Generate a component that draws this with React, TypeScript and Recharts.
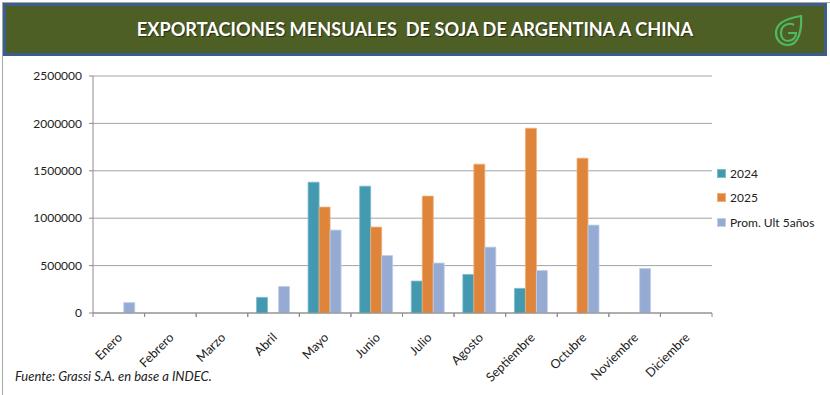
import React from 'react';
import { BarChart, Bar, XAxis, YAxis, CartesianGrid } from 'recharts';

// monthly soybean exports Argentina -> China (tn)
const months = [
  'Enero', 'Febrero', 'Marzo', 'Abril', 'Mayo', 'Junio',
  'Julio', 'Agosto', 'Septiembre', 'Octubre', 'Noviembre', 'Diciembre',
];
const exports2024 = [null, null, null, 165000, 1380000, 1338000, 337000, 407000, 260000, null, null, null];
const exports2025 = [null, null, null, null, 1117000, 906000, 1233000, 1570000, 1949000, 1633000, null, null];
const promUlt5 = [110000, null, null, 280000, 875000, 607000, 527000, 695000, 449000, 927000, 470000, null];
const yTicks = [0, 500000, 1000000, 1500000, 2000000, 2500000];

const series = [
  { key: 'y2024', name: '2024', color: '#4299b0', edge: '#7cbdcf' },
  { key: 'y2025', name: '2025', color: '#de843b', edge: '#f0ae7a' },
  { key: 'prom', name: 'Prom. Ult 5años', color: '#95abd3', edge: '#c3d0e8' },
];

const data = months.map((m, i) => ({
  month: m,
  y2024: exports2024[i],
  y2025: exports2025[i],
  prom: promUlt5[i],
}));

const FONT = 'Lato, "Open Sans", sans-serif';

const MonthTick = (props: any) => {
  const { x, y, payload } = props;
  const half = payload && payload.offset ? payload.offset : 25.8;
  return (
    <g>
      <line x1={x - half} y1={y} x2={x - half} y2={y + 4} stroke="#8c8c8c" />
      <line x1={x + half} y1={y} x2={x + half} y2={y + 4} stroke="#8c8c8c" />
      <text
        x={0}
        y={0}
        transform={`translate(${x + 2},${y + 23}) rotate(-45)`}
        textAnchor="end"
        dominantBaseline="middle"
        fontSize={12.5}
        fontFamily={FONT}
        fill="#222"
      >
        {payload.value}
      </text>
    </g>
  );
};

const Logo = () => (
  <svg width={30} height={34} viewBox="0 0 30 34" style={{ position: 'absolute', left: 774, top: 14 }}>
    <path
      d="M27 2 C 28 15, 25 31, 14 31 C 6 31, 2 25, 2 19 C 2 9, 14 4, 27 2 Z"
      fill="none"
      stroke="#4dba62"
      strokeWidth={2.2}
    />
    <path
      d="M20 11 C 15 8, 7 11, 7 19 C 7 24, 10 27, 14 27 C 19 27, 22 23, 22 19 L 14 19"
      fill="none"
      stroke="#4dba62"
      strokeWidth={2.2}
    />
  </svg>
);

export default function App() {
  return (
    <div
      style={{
        position: 'absolute',
        left: 0,
        top: 0,
        width: 830,
        height: 395,
        background: '#fff',
        fontFamily: FONT,
        overflow: 'hidden',
      }}
    >
      <div style={{ position: 'absolute', left: 2, top: 2, width: 830, height: 400, borderLeft: '1px solid #a6a6a6', borderTop: '1px solid #a6a6a6' }} />
      <div
        style={{
          position: 'absolute',
          left: 3,
          top: 3,
          width: 818,
          height: 47,
          background: '#4e5f26',
          border: '3px solid #3b5e8e',
          color: '#fff',
          fontWeight: 700,
          fontSize: 18.2,
          lineHeight: '47px',
          textAlign: 'center',
          textShadow: '1px 1px 1px rgba(0,0,0,0.55)',
        }}
      >
        EXPORTACIONES MENSUALES&nbsp; DE SOJA DE ARGENTINA A CHINA
      </div>
      <Logo />

      <div style={{ position: 'absolute', left: 0, top: 0 }}>
        <BarChart
          width={830}
          height={395}
          data={data}
          margin={{ top: 76, right: 118, bottom: 22, left: 33 }}
          barCategoryGap="17%"
          barGap={0}
        >
          <CartesianGrid vertical={false} stroke="#a3a3a3" />
          <XAxis
            dataKey="month"
            height={60}
            interval={0}
            tickLine={false}
            tickSize={0}
            tickMargin={0}
            axisLine={{ stroke: '#8c8c8c' }}
            tick={<MonthTick />}
          />
          <YAxis
            width={60}
            domain={[0, 2500000]}
            ticks={yTicks}
            interval={0}
            tickSize={4}
            tickMargin={7}
            tickLine={{ stroke: '#8c8c8c' }}
            axisLine={{ stroke: '#8c8c8c' }}
            tick={{ fontSize: 12, fontFamily: FONT, fill: '#222' }}
          />
          {series.map((s) => (
            <Bar
              key={s.key}
              dataKey={s.key}
              name={s.name}
              fill={s.color}
              stroke={s.edge}
              strokeWidth={0.8}
              isAnimationActive={false}
            />
          ))}
        </BarChart>
      </div>

      <div style={{ position: 'absolute', left: 717, top: 161, fontSize: 12, color: '#222' }}>
        {series.map((s) => (
          <div key={s.key} style={{ display: 'flex', alignItems: 'center', height: 24.5 }}>
            <span style={{ width: 7, height: 7, background: s.color, border: `0.5px solid ${s.edge}`, marginRight: 4 }} />
            <span>{s.name}</span>
          </div>
        ))}
      </div>

      <div
        style={{
          position: 'absolute',
          left: 15,
          top: 368,
          fontSize: 13,
          fontStyle: 'italic',
          color: '#222',
        }}
      >
        Fuente: Grassi S.A. en base a INDEC.
      </div>
    </div>
  );
}
